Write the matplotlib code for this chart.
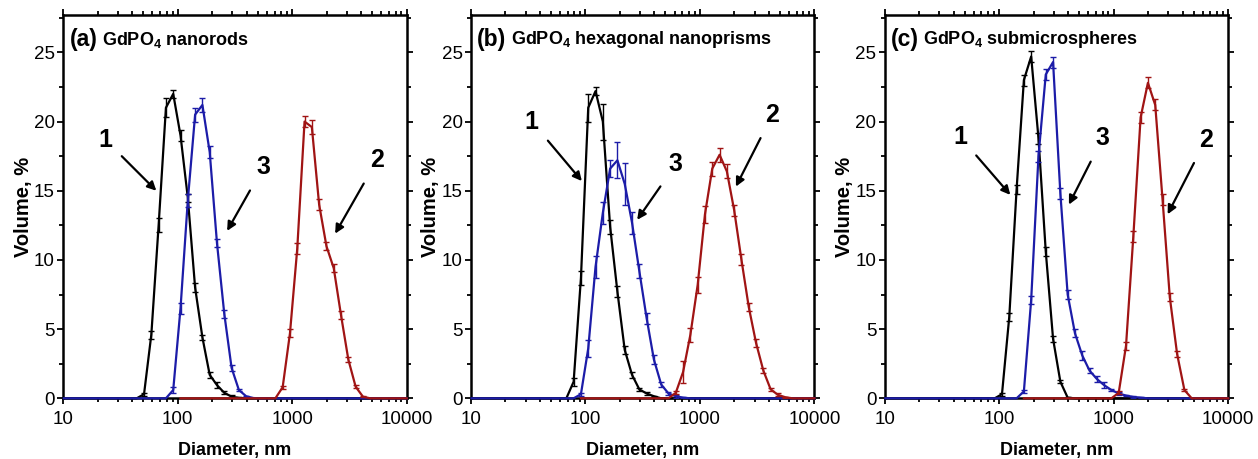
import numpy as np
import matplotlib
matplotlib.use('Agg')
import matplotlib.pyplot as plt
from matplotlib.ticker import LogLocator, MultipleLocator, FixedLocator, FixedFormatter, NullFormatter

plt.rcParams['font.family'] = ['Liberation Sans', 'DejaVu Sans']
plt.rcParams['mathtext.fontset'] = 'custom'
plt.rcParams['mathtext.rm'] = 'Liberation Sans:bold'
plt.rcParams['mathtext.bf'] = 'Liberation Sans:bold'

# size classes of the instrument (nm)
bins = [10.1, 11.7, 13.54, 15.69, 18.17, 21.04, 24.36, 28.21, 32.67, 37.84, 43.82,
        50.75, 58.77, 68.06, 78.82, 91.28, 105.7, 122.4, 141.8, 164.2, 190.1, 220.2,
        255.0, 295.3, 342.0, 396.1, 458.7, 531.2, 615.1, 712.4, 825.0, 955.4, 1106,
        1281, 1484, 1718, 1990, 2305, 2669, 3091, 3580, 4145, 4801, 5560, 6439,
        7456, 8635, 10000]

# (a) nanorods
a1_start = 50.75
a1_y = [0.3, 4.6, 12.5, 21.0, 22.0, 19.0, 14.5, 8.0, 4.4, 1.7, 0.95, 0.4, 0.12, 0.03]
a1_err = [0.1, 0.3, 0.5, 0.7, 0.3, 0.4, 0.3, 0.3, 0.2, 0.2, 0.2, 0.1, 0.1, 0.05]
a3_start = 91.28
a3_y = [0.6, 6.5, 14.3, 20.5, 21.2, 17.8, 11.2, 6.1, 2.2, 0.6, 0.15, 0.02]
a3_err = [0.2, 0.4, 0.5, 0.5, 0.5, 0.4, 0.3, 0.3, 0.2, 0.1, 0.05, 0.02]
a2_start = 825.0
a2_y = [0.8, 4.7, 10.8, 20.0, 19.6, 14.0, 11.0, 9.4, 6.0, 2.8, 0.84, 0.12]
a2_err = [0.1, 0.3, 0.4, 0.4, 0.5, 0.4, 0.3, 0.3, 0.3, 0.2, 0.1, 0.05]

# (b) hexagonal nanoprisms
b1_start = 78.82
b1_y = [1.2, 8.7, 21.0, 22.2, 20.0, 12.4, 7.7, 3.5, 1.7, 0.65, 0.35, 0.15]
b1_err = [0.3, 0.5, 1.0, 0.3, 1.3, 0.5, 0.4, 0.3, 0.2, 0.1, 0.1, 0.05]
b3_start = 91.28
b3_y = [0.3, 3.6, 9.5, 13.4, 16.6, 17.2, 15.5, 12.7, 9.2, 5.8, 2.8, 1.0, 0.35, 0.15, 0.05]
b3_err = [0.1, 0.6, 0.8, 0.8, 0.6, 1.3, 1.5, 0.8, 0.5, 0.4, 0.3, 0.2, 0.1, 0.1, 0.05]
b2_start = 615.1
b2_y = [0.4, 1.9, 4.6, 8.2, 13.3, 16.6, 17.6, 16.4, 13.6, 10.0, 6.6, 4.0, 2.0, 0.65, 0.25, 0.08]
b2_err = [0.1, 0.8, 0.5, 0.6, 0.6, 0.5, 0.5, 0.5, 0.4, 0.4, 0.3, 0.3, 0.2, 0.1, 0.1, 0.05]

# (c) submicrospheres
c1_start = 105.7
c1_y = [0.3, 5.9, 15.1, 23.0, 24.7, 18.8, 10.6, 4.3, 1.2, 0.05]
c1_err = [0.1, 0.3, 0.3, 0.4, 0.4, 0.4, 0.3, 0.2, 0.1, 0.03]
c3_start = 164.2
c3_y = [0.5, 7.1, 17.5, 23.4, 24.3, 14.8, 7.5, 4.7, 3.1, 2.0, 1.4, 0.95, 0.6, 0.35, 0.2, 0.1, 0.05]
c3_err = [0.1, 0.3, 0.4, 0.4, 0.4, 0.4, 0.3, 0.3, 0.3, 0.2, 0.2, 0.2, 0.1, 0.1, 0.05, 0.05, 0.03]
c2_start = 1106
c2_y = [0.4, 3.8, 11.7, 20.3, 22.8, 21.2, 14.4, 7.3, 3.2, 0.6]
c2_err = [0.1, 0.3, 0.4, 0.4, 0.4, 0.4, 0.4, 0.3, 0.2, 0.1]

# where the flat zero part of each curve begins
zero_from = {'1': 10.1, '3': 10.1, '2a': 105.7, '2b': 91.28, '2c': 164.2}

titles = ['GdPO$_4$ nanorods', 'GdPO$_4$ hexagonal nanoprisms', 'GdPO$_4$ submicrospheres']
letters = ['(a)', '(b)', '(c)']

colors = {'1': '#000000', '3': '#1c1ca8', '2': '#a01414'}

# label text position, arrow head position (data coords)
labels = [
    {'1': ((23.2, 18.7), (65, 15.0)), '3': ((557, 16.7), (270, 12.1)), '2': ((5500, 17.2), (2370, 11.9))},
    {'1': ((34, 20.0), (93, 15.7)), '3': ((614, 16.9), (283, 12.9)), '2': ((4300, 20.5), (2060, 15.3))},
    {'1': ((45.5, 18.9), (125, 14.7)), '3': ((800, 18.8), (406, 14.0)), '2': ((6400, 18.7), (2960, 13.3))},
]

panels = [
    [(a1_start, a1_y, a1_err), (a3_start, a3_y, a3_err), (a2_start, a2_y, a2_err)],
    [(b1_start, b1_y, b1_err), (b3_start, b3_y, b3_err), (b2_start, b2_y, b2_err)],
    [(c1_start, c1_y, c1_err), (c3_start, c3_y, c3_err), (c2_start, c2_y, c2_err)],
]

fig = plt.figure(figsize=(12.58, 4.59), dpi=100)
lefts = [0.0503, 0.3744, 0.7033]
width = 0.2730
bottom, top = 0.1322, 0.9673

for k in range(3):
    ax = fig.add_axes([lefts[k], bottom, width, top - bottom])
    keys = ['1', '3', '2']
    for key, (start, ys, errs) in zip(keys, panels[k]):
        zf = zero_from[key] if key != '2' else zero_from['2' + 'abc'[k]]
        i0 = bins.index(start)
        iz = bins.index(zf)
        n = len(ys)
        x = bins[iz:]
        y = [0.0] * (i0 - iz) + list(ys) + [0.0] * (len(bins) - i0 - n)
        ax.plot(x, y, color=colors[key], lw=1.6, zorder=4, clip_on=False)
        ax.errorbar(bins[i0:i0 + n], ys, yerr=errs, fmt='none', ecolor=colors[key],
                    elinewidth=1.0, capsize=2.3, capthick=1.0, zorder=4)
    ax.set_xscale('log')
    ax.set_xlim(10, 10000)
    ax.set_ylim(0, 27.7)
    ax.xaxis.set_major_locator(FixedLocator([10, 100, 1000, 10000]))
    ax.xaxis.set_major_formatter(FixedFormatter(['10', '100', '1000', '10000']))
    ax.xaxis.set_minor_locator(LogLocator(base=10, subs=np.arange(2, 10), numticks=20))
    ax.xaxis.set_minor_formatter(NullFormatter())
    ax.yaxis.set_major_locator(MultipleLocator(5))
    ax.yaxis.set_minor_locator(MultipleLocator(2.5))
    ax.tick_params(which='both', direction='out', top=True, right=True, labelsize=13.5, width=1.3)
    ax.tick_params(which='major', length=4, pad=2)
    ax.tick_params(axis='x', which='major', pad=5)
    ax.tick_params(which='minor', length=3)
    for s in ax.spines.values():
        s.set_linewidth(1.8)
    ax.set_xlabel('Diameter, nm', fontsize=13, fontweight='bold', labelpad=10)
    ax.set_ylabel('Volume, %', fontsize=14.5, fontweight='bold', labelpad=1)

    t1 = ax.text(0.018, 0.935, letters[k], transform=ax.transAxes, fontsize=16.5,
                 fontweight='bold', va='center', ha='left')
    ax.annotate(titles[k], xy=(1, 0.5), xycoords=t1, xytext=(3, 0), textcoords='offset points',
                fontsize=13, fontweight='bold', va='center', ha='left')

    for key, (txt, head) in labels[k].items():
        ax.annotate(key, xy=head, xytext=txt, fontsize=18, fontweight='bold',
                    ha='center', va='center',
                    arrowprops=dict(arrowstyle='-|>', color='black', lw=1.6,
                                    mutation_scale=13, shrinkA=7, shrinkB=0))

fig.savefig('out.png', dpi=100)
